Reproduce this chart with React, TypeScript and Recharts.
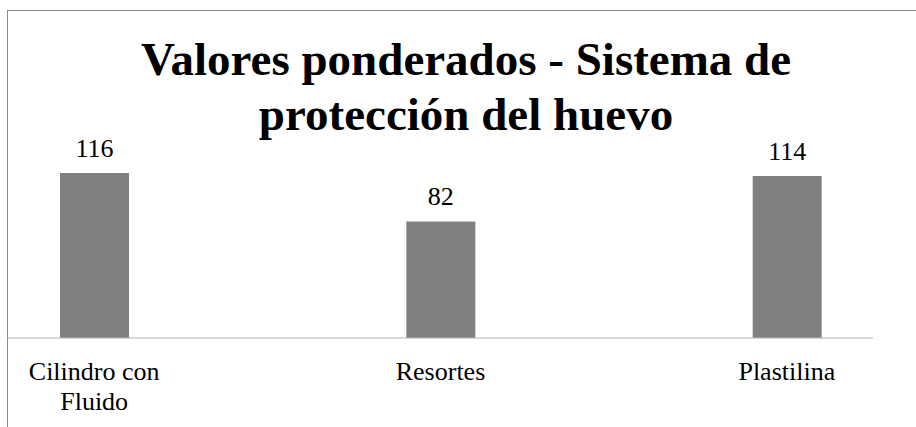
import { BarChart, Bar, XAxis, YAxis, LabelList } from 'recharts';

// Categories and weighted totals
const categories = ['Cilindro con Fluido', 'Resortes', 'Plastilina'];
const values = [116, 82, 114];
const titleLines = ['Valores ponderados - Sistema de', 'protección del huevo'];

const data = categories.map((name, i) => ({ name, value: values[i] }));

const FONT = '"Liberation Serif", "Times New Roman", serif';
const TICK_SIZE = 26;
const TICK_WIDTH = 160;

// greedy word wrap measured with a canvas
function wrap(label: string, maxWidth: number): string[] {
  const ctx = document.createElement('canvas').getContext('2d');
  if (!ctx) return [label];
  ctx.font = `${TICK_SIZE}px ${FONT}`;
  const lines: string[] = [];
  let current = '';
  for (const word of label.split(' ')) {
    const next = current ? `${current} ${word}` : word;
    if (current && ctx.measureText(next).width > maxWidth) {
      lines.push(current);
      current = word;
    } else {
      current = next;
    }
  }
  if (current) lines.push(current);
  return lines;
}

function CategoryTick(props: any) {
  const { x, y, payload } = props;
  const lines = wrap(String(payload.value), TICK_WIDTH);
  return (
    <text x={x} y={y + 42} textAnchor="middle" fill="#000" fontFamily={FONT} fontSize={TICK_SIZE}>
      {lines.map((line, i) => (
        <tspan key={i} x={x} dy={i === 0 ? 0 : 30}>
          {line}
        </tspan>
      ))}
    </text>
  );
}

export default function App() {
  return (
    <div style={{ position: 'absolute', left: 0, top: 0, width: 916, height: 427, overflow: 'hidden', background: '#fff' }}>
      {/* chart frame, cropped on the right and bottom */}
      <div
        style={{
          position: 'absolute',
          left: 7,
          top: 10,
          width: 1000,
          height: 1000,
          borderTop: '1px solid #898989',
          borderLeft: '1px solid #898989',
        }}
      />
      <div style={{ position: 'absolute', left: 0, top: 0 }}>
        <BarChart width={916} height={427} data={data} margin={{ top: 139, right: 43, bottom: 29, left: 7 }}>
          <XAxis
            dataKey="name"
            height={60}
            tickLine={false}
            tickSize={0}
            tickMargin={0}
            interval={0}
            padding={{ left: -86, right: -87 }}
            axisLine={{ stroke: '#b4b4b4', strokeWidth: 1 }}
            tick={<CategoryTick />}
          />
          <YAxis hide domain={[0, 140]} />
          <Bar dataKey="value" fill="#808080" barSize={69} isAnimationActive={false}>
            <LabelList
              dataKey="value"
              position="top"
              offset={16}
              fill="#000"
              style={{ fontFamily: FONT, fontSize: 26 }}
            />
          </Bar>
        </BarChart>
      </div>
      <svg width={916} height={427} style={{ position: 'absolute', left: 0, top: 0, pointerEvents: 'none' }}>
        {titleLines.map((line, i) => (
          <text
            key={line}
            x={466}
            y={75 + i * 55}
            textAnchor="middle"
            fontFamily={FONT}
            fontSize={47}
            fontWeight="bold"
            fill="#000"
          >
            {line}
          </text>
        ))}
      </svg>
    </div>
  );
}
